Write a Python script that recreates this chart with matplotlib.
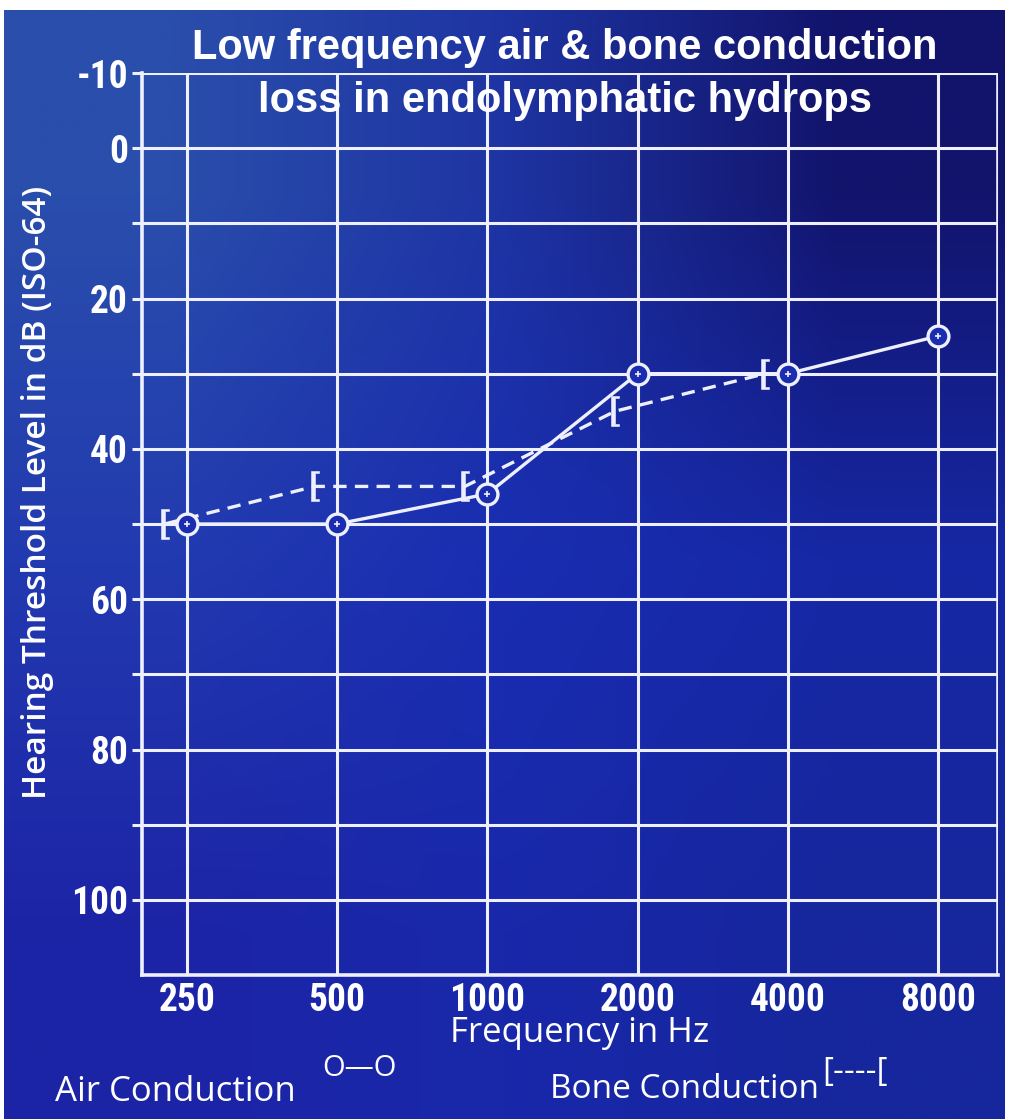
import numpy as np
import matplotlib.pyplot as plt

# audiogram values (dB HL)
freqs = ["250", "500", "1000", "2000", "4000", "8000"]
air = [50, 50, 46, 30, 30, 25]
bone = [50, 45, 45, 35, 30]
y_ticks = [-10, 0, 20, 40, 60, 80, 100]

W, H = 1010, 1119
fig = plt.figure(figsize=(W / 100, H / 100), dpi=100)
fig.patch.set_facecolor("white")

# slide background: blue photo, smooth 3x3 colour field
bg = fig.add_axes([0.004, 0, 0.991, 0.991])
field = np.array([
    [[42, 78, 172], [30, 52, 162], [18, 20, 108]],
    [[34, 58, 176], [25, 45, 178], [22, 40, 165]],
    [[28, 36, 166], [25, 40, 170], [22, 38, 156]],
]) / 255
bg.imshow(field, aspect="auto", extent=[0, 1, 0, 1], origin="upper",
          interpolation="bilinear")
bg.axis("off")

line_c = "#eef0ff"
face_c = "#1a2db0"

ax = fig.add_axes([142 / W, 1 - 975 / H, (998 - 142) / W, (975 - 73) / H])
ax.set_facecolor("none")
x = np.arange(len(freqs))
ax.set_xlim(-0.3, len(freqs) - 1 + 0.4)
ax.set_ylim(110, -10)

ax.set_yticks(np.arange(-10, 101, 10))
ax.set_yticklabels([str(t) if t in y_ticks else "" for t in range(-10, 101, 10)])
ax.set_xticks(x)
ax.set_xticklabels(freqs)
ax.tick_params(axis="y", length=7, width=2.2, color=line_c, pad=3)
ax.tick_params(axis="x", length=0, pad=5)
tick_font = dict(family=["Roboto Condensed", "DejaVu Sans"], stretch="condensed",
                 weight="bold", size=27, color="white")
for lab in ax.get_xticklabels() + ax.get_yticklabels():
    lab.set(**tick_font)

ax.grid(True, color=line_c, lw=2.2)
ax.axvline(len(freqs) - 1 + 0.4, color=line_c, lw=2.6)
for s in ["top", "right"]:
    ax.spines[s].set_visible(False)
for s in ["left", "bottom"]:
    ax.spines[s].set_color(line_c)
    ax.spines[s].set_linewidth(2.6)

# bone conduction, brackets sit just left of the frequency line
bx = x[:len(bone)] - 0.15
ax.plot(bx, bone, color=line_c, lw=2.4, ls=(0, (4, 2.5)), marker="$[$",
        ms=22, mew=0.4, zorder=3)
# air conduction
ax.plot(x, air, color=line_c, lw=2.4, marker="o", ms=15, mfc=face_c,
        mec=line_c, mew=2.4, zorder=4)
ax.plot(x, air, ls="none", marker="+", ms=5, mew=1.2, color=line_c, zorder=5)

hum = ["Open Sans", "DejaVu Sans"]
fig.text(38 / W, 1 - 492 / H, "Hearing Threshold Level in dB (ISO-64)",
         family=hum, size=24, weight="semibold", color="white",
         rotation=90, ha="center", va="center")
title_font = dict(family=["Liberation Sans", "DejaVu Sans"], size=30,
                  weight="bold", color="white", ha="center", va="center")
fig.text(565 / W, 1 - 48 / H, "Low frequency air & bone conduction", **title_font)
fig.text(565 / W, 1 - 101 / H, "loss in endolymphatic hydrops", **title_font)
fig.text(580 / W, 1 - 1033 / H, "Frequency in Hz", family=hum, size=25,
         color="white", ha="center", va="center")
fig.text(55 / W, 1 - 1092 / H, "Air Conduction", family=hum, size=25,
         color="white", ha="left", va="center")
fig.text(322 / W, 1 - 1069 / H, "O—O", family=hum, size=21,
         color="white", ha="left", va="center")
fig.text(550 / W, 1 - 1090 / H, "Bone Conduction", family=hum, size=24,
         color="white", ha="left", va="center")
fig.text(822 / W, 1 - 1073 / H, "[----[", family=hum, size=24,
         color="white", ha="left", va="center")

fig.savefig("out.png", dpi=100)
